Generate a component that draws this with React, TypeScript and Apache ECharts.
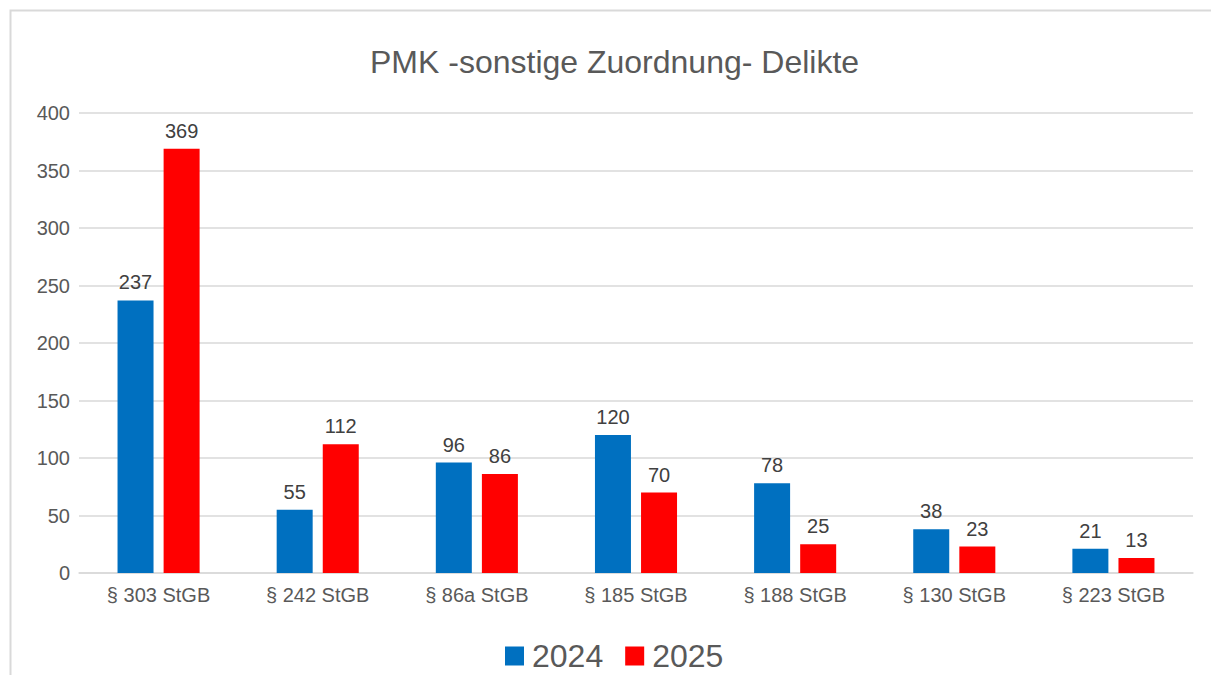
import React, { useEffect, useRef } from "react";
import * as echarts from "echarts";

const categories = ["§ 303 StGB", "§ 242 StGB", "§ 86a StGB", "§ 185 StGB", "§ 188 StGB", "§ 130 StGB", "§ 223 StGB"];
const values2024 = [237, 55, 96, 120, 78, 38, 21];
const values2025 = [369, 112, 86, 70, 25, 23, 13];
const seriesNames = ["2024", "2025"];
const title = "PMK -sonstige Zuordnung- Delikte";

const FONT = "'Liberation Sans', Arial, sans-serif";
const TXT = "#595959";

export default function App() {
  const ref = useRef<HTMLDivElement>(null);
  useEffect(() => {
    if (!ref.current) return;
    const chart = echarts.init(ref.current, undefined, { renderer: "svg" });
    const label = {
      show: true,
      position: "top" as const,
      distance: 8,
      color: "#404040",
      fontFamily: FONT,
      fontSize: 20,
    };
    chart.setOption({
      animation: false,
      backgroundColor: "#ffffff",
      title: {
        text: title,
        left: 370,
        top: 46,
        padding: 0,
        textStyle: { color: TXT, fontFamily: FONT, fontSize: 32, fontWeight: "normal" },
      },
      graphic: [
        {
          type: "rect",
          shape: { x: 10.5, y: 10.5, width: 1230, height: 700 },
          style: { fill: "none", stroke: "#d9d9d9", lineWidth: 2 },
          silent: true,
        },
      ],
      legend: {
        bottom: -2,
        left: 500,
        itemWidth: 19,
        itemHeight: 19,
        itemGap: 22,
        icon: "rect",
        textStyle: { color: TXT, fontFamily: FONT, fontSize: 32, padding: [0, 0, 0, 3] },
        data: seriesNames,
      },
      grid: { left: 79, right: 18, top: 113, bottom: 102, containLabel: false },
      xAxis: {
        type: "category",
        data: categories,
        axisLine: { lineStyle: { color: "#d9d9d9", width: 1.5 } },
        axisTick: { show: false },
        axisLabel: { color: TXT, fontFamily: FONT, fontSize: 20, margin: 12 },
      },
      yAxis: {
        type: "value",
        min: 0,
        max: 400,
        interval: 50,
        axisLine: { show: false },
        axisTick: { show: false },
        axisLabel: { color: TXT, fontFamily: FONT, fontSize: 20, margin: 9 },
        splitLine: { lineStyle: { color: "#d9d9d9", width: 1.5 } },
      },
      series: [
        {
          name: seriesNames[0],
          type: "bar",
          data: values2024,
          barWidth: 36,
          barGap: "28%",
          itemStyle: { color: "#0070C0" },
          label,
        },
        {
          name: seriesNames[1],
          type: "bar",
          data: values2025,
          barWidth: 36,
          barGap: "28%",
          itemStyle: { color: "#FF0000" },
          label,
        },
      ],
    });
    return () => chart.dispose();
  }, []);
  return <div ref={ref} style={{ width: 1211, height: 675, position: "absolute", left: 0, top: 0 }} />;
}
